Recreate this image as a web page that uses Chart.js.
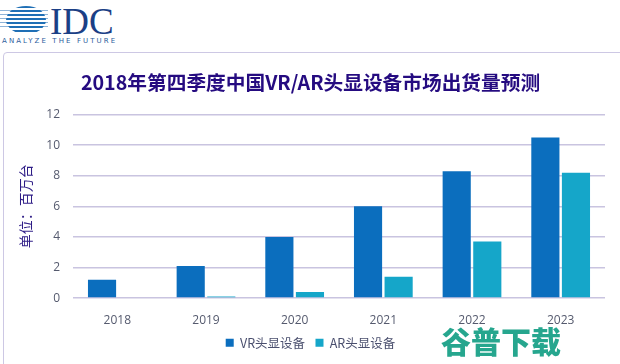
<!DOCTYPE html>
<html>
<head>
<meta charset="utf-8">
<script src="https://cdn.jsdelivr.net/npm/chart.js@4"></script>
<style>
  body { margin: 0; background: #fff; font-family: "Noto Sans CJK SC", "Noto Sans", sans-serif; }
  #page { position: relative; width: 620px; height: 364px; overflow: hidden; }
  #frame { position: absolute; left: 3px; top: 52px; width: 640px; height: 340px;
           border: 1px solid #cdc8e4; border-radius: 4px; }
  #chartBox { position: absolute; left: 0; top: 0; width: 620px; height: 364px; }
  .logo-globe { position: absolute; left: 6px; top: 6px; width: 40px; height: 28px; border-radius: 50%;
    background: repeating-linear-gradient(#1f6fb5 0 2px, #fff 2px 4px); }
  .logo-lines { position: absolute; left: 0; top: 10px; width: 48px; height: 20px;
    background: repeating-linear-gradient(#8fb4d8 0 1px, transparent 1px 4px); z-index: -1; }
  .logo-idc { position: absolute; left: 50px; top: 3px; font-family: "Liberation Serif", serif;
    font-size: 37px; line-height: 37px; color: #1b3f86; }
  .logo-tag { position: absolute; left: 2px; top: 37px; font-family: "DejaVu Sans", sans-serif;
    font-size: 7px; letter-spacing: 2.1px; color: #2c5c9c; }
  .watermark { position: absolute; left: 441px; top: 318px; font-family: "Noto Sans CJK SC", sans-serif;
    font-weight: 900; font-size: 30px; color: #26a68e; }
</style>
</head>
<body>
<div id="page">
  <div class="logo-lines"></div>
  <div class="logo-globe"></div>
  <div class="logo-idc">IDC</div>
  <div class="logo-tag">ANALYZE THE FUTURE</div>
  <div id="frame"></div>
  <div id="chartBox"><canvas id="chart"></canvas></div>
  <div class="watermark">谷普下载</div>
</div>
<script>
  // data (millions of units)
  const years = ['2018', '2019', '2020', '2021', '2022', '2023'];
  const vrValues = [1.2, 2.1, 4.0, 6.0, 8.3, 10.5];
  const arValues = [0, 0.1, 0.4, 1.4, 3.7, 8.2];
  const seriesNames = ['VR头显设备', 'AR头显设备'];
  const yTicks = [0, 2, 4, 6, 8, 10, 12];

  const ctx = document.getElementById('chart').getContext('2d');
  new Chart(ctx, {
    type: 'bar',
    data: {
      labels: years,
      datasets: [{
        label: seriesNames[0],
        data: vrValues,
        backgroundColor: '#0b6ebe',
        categoryPercentage: 0.69,
        barPercentage: 0.92
      }, {
        label: seriesNames[1],
        data: arValues,
        backgroundColor: '#15a6c9',
        categoryPercentage: 0.69,
        barPercentage: 0.92
      }]
    },
    options: {
      responsive: true,
      maintainAspectRatio: false,
      animation: false,
      layout: { padding: { left: 16, right: 15, top: 63, bottom: 5 } },
      plugins: {
        title: {
          display: true,
          text: '2018年第四季度中国VR/AR头显设备市场出货量预测',
          color: '#250b80',
          font: { size: 19.7, weight: 'bold', family: '"Noto Sans CJK SC", sans-serif' },
          padding: { top: 8, bottom: 20 }
        },
        legend: {
          position: 'bottom',
          labels: {
            boxWidth: 8,
            boxHeight: 8,
            color: '#4a4f6e',
            font: { size: 12.5, family: '"Noto Sans CJK SC", sans-serif' },
            padding: 2,
            // trailing spaces keep the gap between the two items while padding stays small
            generateLabels: (chart) => Chart.defaults.plugins.legend.labels.generateLabels(chart)
              .map((item, i) => ({ ...item, text: i === 0 ? item.text + '   ' : item.text }))
          }
        },
        tooltip: { enabled: false }
      },
      scales: {
        x: {
          grid: { display: false },
          border: { display: false },
          ticks: { color: '#555a6e', font: { size: 12, family: '"Open Sans", sans-serif' }, padding: 7 }
        },
        y: {
          min: 0,
          max: 12,
          afterBuildTicks: (axis) => { axis.ticks = yTicks.map(v => ({ value: v })); },
          afterFit: (axis) => { axis.width = 57; },
          grid: { color: '#c9c4e0', lineWidth: 1.5, drawTicks: false },
          border: { display: false },
          ticks: { color: '#555a6e', font: { size: 12, family: '"Open Sans", sans-serif' }, padding: 13 },
          title: {
            display: true,
            text: '单位：百万台',
            color: '#2e1c86',
            font: { size: 14, family: '"Noto Sans CJK SC", sans-serif' },
            padding: { top: 1, bottom: 0 }
          }
        }
      }
    }
  });
</script>
</body>
</html>
